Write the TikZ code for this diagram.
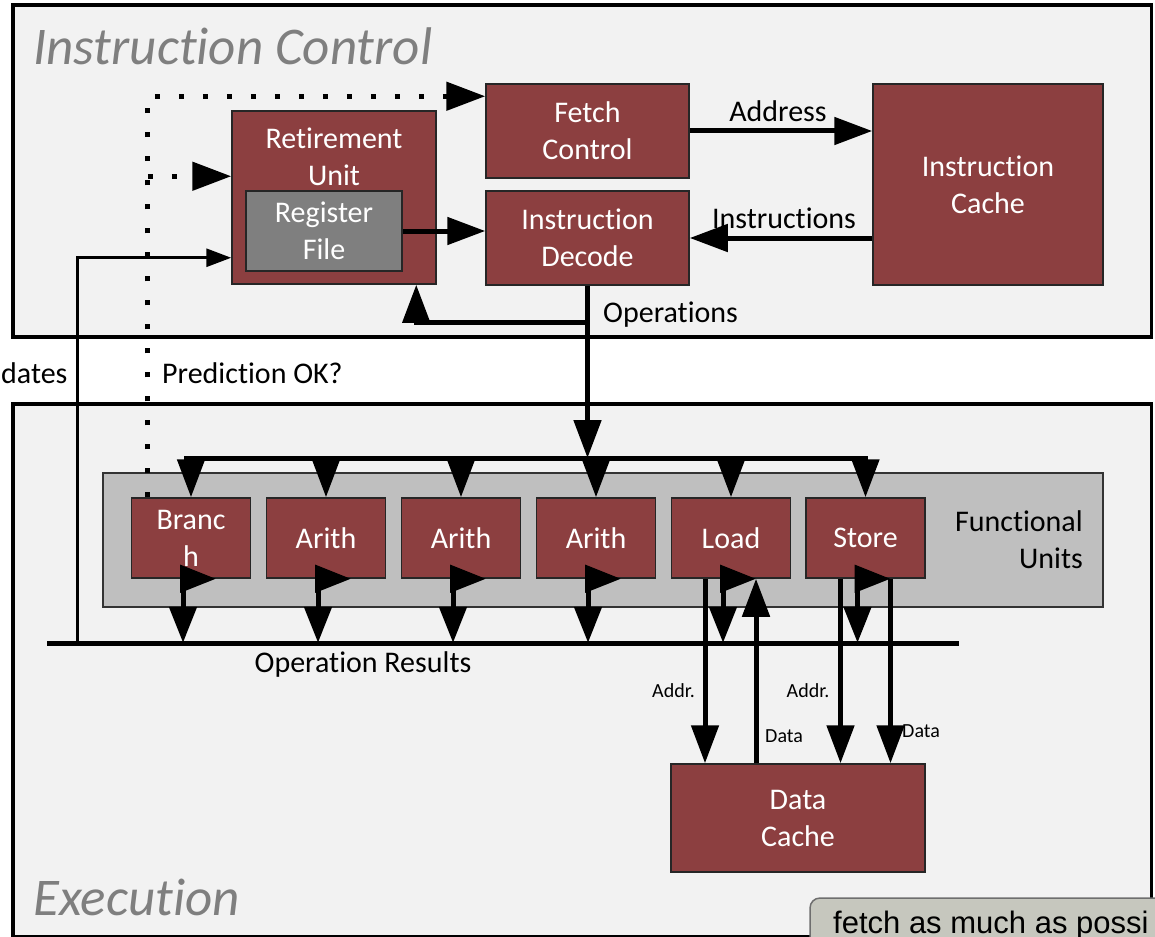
\documentclass[tikz,border=0pt]{standalone}
\usepackage{fontspec}
\setmainfont{Carlito}[RawFeature={-liga;-clig;-dlig}]
\newfontfamily\tipfont{Liberation Sans}
\usetikzlibrary{arrows.meta,calc}
\definecolor{boxred}{RGB}{140,63,64}
\definecolor{panelgray}{RGB}{242,242,242}
\definecolor{fugray}{RGB}{191,191,191}
\definecolor{regray}{RGB}{127,127,127}
\definecolor{titlegray}{RGB}{127,127,127}
\definecolor{tipfill}{RGB}{198,199,190}
\definecolor{tipedge}{RGB}{110,110,110}
\begin{document}
\begin{tikzpicture}[x=1pt,y=-1pt,
  panel/.style={draw=black, line width=3.5pt, fill=panelgray},
  block/.style={draw=black!85, line width=1.5pt, fill=boxred, text=white,
    font=\fontsize{30}{37}\selectfont, align=center, inner sep=0pt},
  lbl/.style={font=\fontsize{30}{37}\selectfont, inner sep=0pt},
  smalllbl/.style={font=\fontsize{20}{24}\selectfont, inner sep=0pt},
  paneltitle/.style={font=\fontsize{53}{60}\selectfont\itshape, text=titlegray, inner sep=0pt},
  fatarrow/.style={-{Triangle[length=38pt,width=27pt]}, line width=5pt},
  flagarrow/.style={-{Triangle[length=36pt,width=27pt]}, line width=5pt},
  slimarrow/.style={-{Triangle[length=25pt,width=18pt]}, line width=3pt},
  dotline/.style={line width=5pt, dash pattern=on 5pt off 19pt,
    -{Triangle[length=39pt,width=28pt]}},
  busline/.style={line width=5pt},
]
\useasboundingbox (0,0) rectangle (1155,936);
\clip (0,0) rectangle (1155,936);
\fill[white] (0,0) rectangle (1155,936);

% the two panels
\draw[panel] (13,5) rectangle (1151.5,337);
\draw[panel] (13,404) rectangle (1151.5,937);
\node[paneltitle, anchor=base west] (ictitle) at (33,65) {Instruction Control};
\node[paneltitle, anchor=base west] (extitle) at (33,915) {Execution};

% instruction control blocks
\node[block, minimum width=203pt, minimum height=94pt] (fetch) at (587.5,131) {Fetch\\Control};
\node[block, minimum width=203pt, minimum height=94pt] (dec) at (587.5,238) {Instruction\\Decode};
\node[block, minimum width=230pt, minimum height=201pt] (icache) at (988,184.5) {Instruction\\Cache};
\node[block, minimum width=204pt, minimum height=173pt] (ret) at (334,197.5) {};
\node[lbl, text=white, align=center] (rettxt) at (334,157) {Retirement\\Unit};
\node[block, fill=regray, minimum width=156pt, minimum height=80pt] (reg) at (324,231) {Register\\File};

% functional units
\node[draw=black!80, line width=2pt, fill=fugray, minimum width=1000pt, minimum height=134pt, inner sep=0pt] (fu) at (603,540) {};
\node[lbl, align=right, anchor=east] (futxt) at (1083,540) {Functional\\Units};
\node[block, minimum width=119pt, minimum height=80pt] (branch) at (191,538) {Branc\\h};
\node[block, minimum width=119pt, minimum height=80pt] (ar1) at (326,538) {Arith};
\node[block, minimum width=119pt, minimum height=80pt] (ar2) at (461,538) {Arith};
\node[block, minimum width=119pt, minimum height=80pt] (ar3) at (596,538) {Arith};
\node[block, minimum width=119pt, minimum height=80pt] (load) at (731,538) {Load};
\node[block, minimum width=119pt, minimum height=80pt] (store) at (865.5,538) {Store};

\node[block, minimum width=254pt, minimum height=108pt] (dcache) at (798,818) {Data\\Cache};

% fetch / decode paths
\draw[fatarrow] (fetch.east) -- (fetch.east -| icache.west);
\node[lbl, anchor=base] (addrlbl) at (778,122) {Address};
\draw[fatarrow] (dec.east -| icache.west) -- (dec.east);
\node[lbl, anchor=base] (instrlbl) at (784,228) {Instructions};
\draw[fatarrow] (reg.east) -- (reg.east -| dec.west);

% operations to the units and to retirement
\coordinate (opsplit) at (587.5,322);
\coordinate (tbL) at (184,458);
\coordinate (tbR) at (868,458);
\draw[busline] (tbL) -- (tbR);
\draw[fatarrow] (dec.south) -- (dec.south |- tbL);
\draw[fatarrow] (opsplit) -| ([xshift=185pt]ret.south west);
\node[lbl, anchor=base west] (opslbl) at (603,322) {Operations};
\foreach \u in {branch,ar1,ar2,ar3,load,store}{
  \draw[fatarrow] (\u.north |- tbL) -- (\u.north);
}

% results bus
\coordinate (rbL) at (47,643);
\coordinate (rbR) at (959,643);
\draw[busline] (rbL) -- (rbR);
\node[lbl, anchor=base] (reslbl) at (363,672) {Operation Results};
\foreach \u in {branch,ar1,ar2,ar3,load,store}{
  \draw[flagarrow] ($(\u.south)+(-11,0)$) -- ($(\u.south)+(25,0)$);
  \draw[flagarrow] ($(\u.south)+(-8,0)$) -- ($(\u.south)+(-8,64)$);
}

% load / store to data cache
\coordinate (ldaddr) at ($(load.south)+(-26,0)$);
\coordinate (lddata) at ($(load.south)+(25,0)$);
\coordinate (staddr) at ($(store.south)+(-25,0)$);
\coordinate (stdata) at ($(store.south)+(25,0)$);
\draw[fatarrow] (ldaddr) -- (ldaddr |- dcache.north);
\draw[fatarrow] (lddata |- dcache.north) -- (lddata);
\draw[fatarrow] (staddr) -- (staddr |- dcache.north);
\draw[fatarrow] (stdata) -- (stdata |- dcache.north);
\node[smalllbl, anchor=base west] (addr1) at (652,697) {Addr.};
\node[smalllbl, anchor=base west] (addr2) at (786.5,697) {Addr.};
\node[smalllbl, anchor=base west] (data1) at (765,742) {Data};
\node[smalllbl, anchor=base west] (data2) at (902,737) {Data};

% register updates
\coordinate (updsrc) at (77,643);
\coordinate (retupd) at ($(ret.south west)+(0,-27)$);
\draw[slimarrow] (updsrc) |- (retupd);
\node[lbl, anchor=base west] (updlbl) at (1,383) {dates};

% branch prediction feedback
\coordinate (brtop) at ($(branch.north west)+(17,0)$);
\coordinate (fetchin) at ($(fetch.north west)+(0,13)$);
\coordinate (retin) at ($(ret.north west)+(0,66)$);
\draw[dotline] (brtop) |- (fetchin);
\draw[dotline] (retin -| brtop) -- (retin);
\node[lbl, anchor=base west] (predlbl) at (162,383) {Prediction OK?};

% note box at the corner
\draw[fill=tipfill, draw=tipedge, line width=1.5pt, rounded corners=10pt] (810,898) rectangle (1220,1000);
\node[anchor=base west, inner sep=0pt, font=\tipfont\fontsize{31}{36}\selectfont] (tiptxt) at (833,933) {fetch as much as possi};
\end{tikzpicture}
\end{document}
